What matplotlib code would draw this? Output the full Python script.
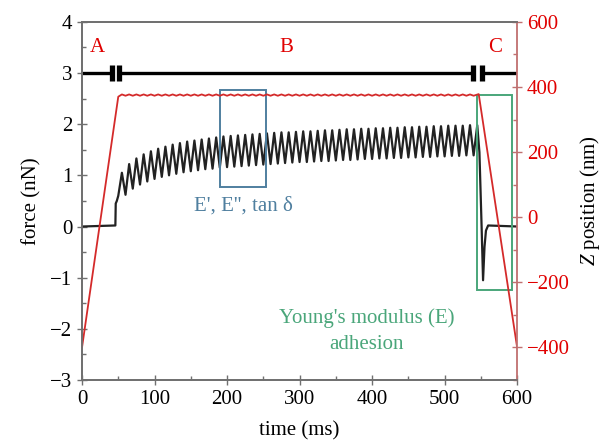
import numpy as np
import matplotlib.pyplot as plt
from matplotlib.patches import Rectangle
from matplotlib.ticker import MultipleLocator

plt.rcParams['font.family'] = ['Liberation Serif', 'DejaVu Serif']
plt.rcParams['mathtext.fontset'] = 'custom'
plt.rcParams['mathtext.rm'] = 'Liberation Serif'
plt.rcParams['mathtext.it'] = 'Liberation Serif:italic'

# --- datos ---
# fuerza antes de la oscilacion (t en ms, fuerza en nN)
t_pre = [0, 46, 46.5, 48, 50]
f_pre = [0.0, 0.02, 0.45, 0.5, 0.6]

# picos y valles de la oscilacion (periodo ~10 ms)
T_FIRST_PEAK = 55
PERIOD = 10
f_peaks = [1.05, 1.22, 1.33, 1.41, 1.47, 1.52, 1.56, 1.60, 1.63, 1.66,
           1.68, 1.70, 1.72, 1.74, 1.76, 1.77, 1.78, 1.79, 1.80, 1.81,
           1.82, 1.83, 1.84, 1.84, 1.85, 1.86, 1.86, 1.87, 1.88, 1.88,
           1.89, 1.90, 1.90, 1.91, 1.91, 1.92, 1.92, 1.93, 1.93, 1.94,
           1.94, 1.95, 1.95, 1.96, 1.96, 1.97, 1.97, 1.97, 1.98, 1.98]
f_troughs = [0.62, 0.74, 0.82, 0.88, 0.93, 0.97, 1.00, 1.03, 1.06, 1.08,
             1.10, 1.12, 1.13, 1.15, 1.16, 1.17, 1.18, 1.19, 1.20, 1.21,
             1.22, 1.23, 1.24, 1.25, 1.26, 1.26, 1.27, 1.28, 1.28, 1.29,
             1.30, 1.30, 1.31, 1.32, 1.32, 1.33, 1.33, 1.34, 1.34, 1.35,
             1.35, 1.36, 1.36, 1.37, 1.37, 1.38, 1.38, 1.39, 1.39]

# retirada: caida, adhesion y vuelta a cero
t_post = [548, 551, 553, 555, 557, 560, 600]
f_post = [1.45, 0.0, -1.05, -0.4, -0.08, 0.02, 0.0]

# posicion Z (nm)
t_z_approach = [0, 50]
z_approach = [-400, 370]
Z_HIGH = 377
Z_LOW = 373
t_z_retract = [547, 600]
z_retract = [378, -400]

# barra de fases A | B | C en y = 3 nN
PHASE_Y = 3
phase_breaks = [(41, 51), (539, 552)]
phase_labels = ['A', 'B', 'C']
phase_label_t = [21, 282, 569]

# cajas de analisis (t0, t1, f0, f1)
box_dma = (190, 254, 0.78, 2.67)
box_fd = (545, 593, -1.24, 2.57)

# armar las series
t_osc = []
f_osc = []
for k, p in enumerate(f_peaks):
    t_osc.append(T_FIRST_PEAK + k * PERIOD)
    f_osc.append(p)
    if k < len(f_troughs):
        t_osc.append(T_FIRST_PEAK + k * PERIOD + PERIOD / 2)
        f_osc.append(f_troughs[k])
t_force = np.array(t_pre + t_osc + t_post)
f_force = np.array(f_pre + f_osc + f_post)

t_z_plateau = t_osc[:-1]
z_plateau = [Z_HIGH if i % 2 == 0 else Z_LOW for i in range(len(t_z_plateau))]
t_z = np.array(t_z_approach + t_z_plateau + t_z_retract)
z = np.array(z_approach + z_plateau + z_retract)

# --- figura ---
fig = plt.figure(figsize=(6.12, 4.45), dpi=100)
ax = fig.add_axes([0.134, 0.146, 0.711, 0.805])
ax2 = ax.twinx()

RED = '#d42a2a'
BLACK_LINE = '#222222'
BLUE = '#4f7f9f'
GREEN = '#4aa67a'
GRAY = '#707070'

ax2.plot(t_z, z, color=RED, lw=1.3, zorder=2)
ax.plot(t_force, f_force, color=BLACK_LINE, lw=1.6, zorder=3)

# barra de fases
edges = [0] + [v for b in phase_breaks for v in b] + [600]
for i in range(0, len(edges), 2):
    ax.plot([edges[i], edges[i + 1]], [PHASE_Y, PHASE_Y], color='black', lw=2.4,
            solid_capstyle='butt')
for b in phase_breaks:
    for tb in b:
        ax.plot([tb, tb], [PHASE_Y - 0.16, PHASE_Y + 0.16], color='black', lw=3.8,
                solid_capstyle='butt')
for lab, tl in zip(phase_labels, phase_label_t):
    ax.text(tl, 3.5, lab, color='#e00000', fontsize=15, ha='center', va='center')

# cajas
for (t0, t1, f0, f1), c in [(box_dma, BLUE), (box_fd, GREEN)]:
    ax.add_patch(Rectangle((t0, f0), t1 - t0, f1 - f0, fill=False, edgecolor=c, lw=1.4,
                           zorder=4))
ax.text(222, 0.4, "E', E'', tan δ", color=BLUE, fontsize=15, ha='center', va='center')
ax.text(392, -1.8, "Young's modulus (E)", color=GREEN, fontsize=15, ha='center',
        va='center')
ax.text(392, -2.3, "adhesion", color=GREEN, fontsize=15, ha='center', va='center')

# ejes
ax.set_xlim(0, 600)
ax.set_ylim(-3, 4)
ax2.set_ylim(-500, 600)
ax.xaxis.set_major_locator(MultipleLocator(100))
ax.xaxis.set_minor_locator(MultipleLocator(50))
ax.yaxis.set_major_locator(MultipleLocator(1))
ax.yaxis.set_minor_locator(MultipleLocator(0.5))
ax2.yaxis.set_major_locator(MultipleLocator(200))
ax2.yaxis.set_minor_locator(MultipleLocator(100))

ax.tick_params(axis='both', which='major', direction='inout', length=7, width=1,
               color=GRAY, labelsize=15)
ax.tick_params(axis='both', which='minor', direction='in', length=3, width=1, color=GRAY)
ax2.tick_params(axis='y', which='major', direction='inout', length=7, width=1,
                color='#c07070', labelcolor='#e00000', labelsize=15)
ax2.tick_params(axis='y', which='minor', direction='in', length=3, width=1,
                color='#c07070')

for s in ['left', 'bottom', 'top']:
    ax.spines[s].set_color(GRAY)
    ax.spines[s].set_linewidth(1.3)
    ax2.spines[s].set_color(GRAY)
    ax2.spines[s].set_linewidth(1.3)
ax2.spines['right'].set_color('#c07070')
ax2.spines['right'].set_linewidth(1.3)
ax.spines['right'].set_visible(False)

ax.set_xlabel('time (ms)', fontsize=15, labelpad=9)
ax.set_ylabel('force (nN)', fontsize=15, labelpad=6)
ax2.set_ylabel(r'$Z$ position (nm)', fontsize=15, labelpad=6)

fig.savefig('out.png', dpi=100)
